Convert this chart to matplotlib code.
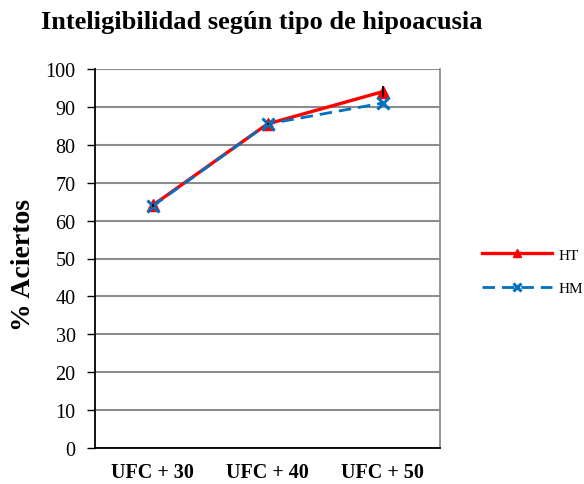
import matplotlib
matplotlib.use("Agg")
import matplotlib.pyplot as plt

categories = ["UFC + 30", "UFC + 40", "UFC + 50"]
ht_values = [64, 85.5, 94]
hm_values = [63.8, 85.5, 91]
ht_err = [0.5, 0.3, 1.5]
y_ticks = [0, 10, 20, 30, 40, 50, 60, 70, 80, 90, 100]

plt.rcParams['font.family'] = ['Liberation Serif', 'DejaVu Serif']

fig = plt.figure(figsize=(5.84, 4.85), dpi=100)
ax = fig.add_axes([95/584, 36/485, 345/584, 379/485])

x = list(range(len(categories)))
ax.set_ylim(0, 100)
ax.set_xlim(-0.5, 2.5)
ax.set_yticks(y_ticks)
ax.set_yticklabels([str(v) for v in y_ticks], fontsize=14.5)
ax.set_xticks(x)
ax.set_xticklabels(categories, fontsize=14.5, fontweight='bold')
ax.tick_params(axis='x', length=0, pad=10)
ax.tick_params(axis='y', length=6, width=1, direction='out', pad=8, color='black')

ax.grid(axis='y', color='#8c8c8c', linewidth=1.5)
ax.set_axisbelow(True)
ax.spines['top'].set_visible(False)
ax.spines['right'].set_color('#8c8c8c')
ax.spines['right'].set_linewidth(1.3)
ax.spines['left'].set_color('black')
ax.spines['bottom'].set_color('black')
ax.spines['left'].set_linewidth(1.3)
ax.spines['bottom'].set_linewidth(1.3)

ln_ht, = ax.plot(x, ht_values, color='#ff0000', linewidth=2.4, marker='^',
                 markersize=8, label='HT', zorder=3)
ln_hm, = ax.plot(x, hm_values, color='#0070c0', linewidth=2.0, linestyle=(0, (4.5, 2.5)),
                 marker='x', markersize=8, markeredgewidth=2.2, label='HM', zorder=4)
ax.errorbar(x, ht_values, yerr=ht_err, fmt='none', ecolor='black', elinewidth=1.2,
            capsize=0, zorder=5)

fig.text(24/584, 1 - 265/485, '% Aciertos', rotation=90, ha='center', va='center',
         fontsize=20, fontweight='bold')
fig.text(262/584, 1 - 29.5/485, 'Inteligibilidad según tipo de hipoacusia',
         ha='center', va='baseline', fontsize=19, fontweight='bold')

fig.legend(handles=[ln_ht, ln_hm], labels=['HT', 'HM'], loc='center left',
           bbox_to_anchor=(482/584, 1 - 272.5/485), frameon=False, fontsize=11,
           borderpad=0, borderaxespad=0,
           handlelength=4.6, handletextpad=0.4, labelspacing=1.3, markerscale=0.8)

fig.savefig('out.png', dpi=100)
